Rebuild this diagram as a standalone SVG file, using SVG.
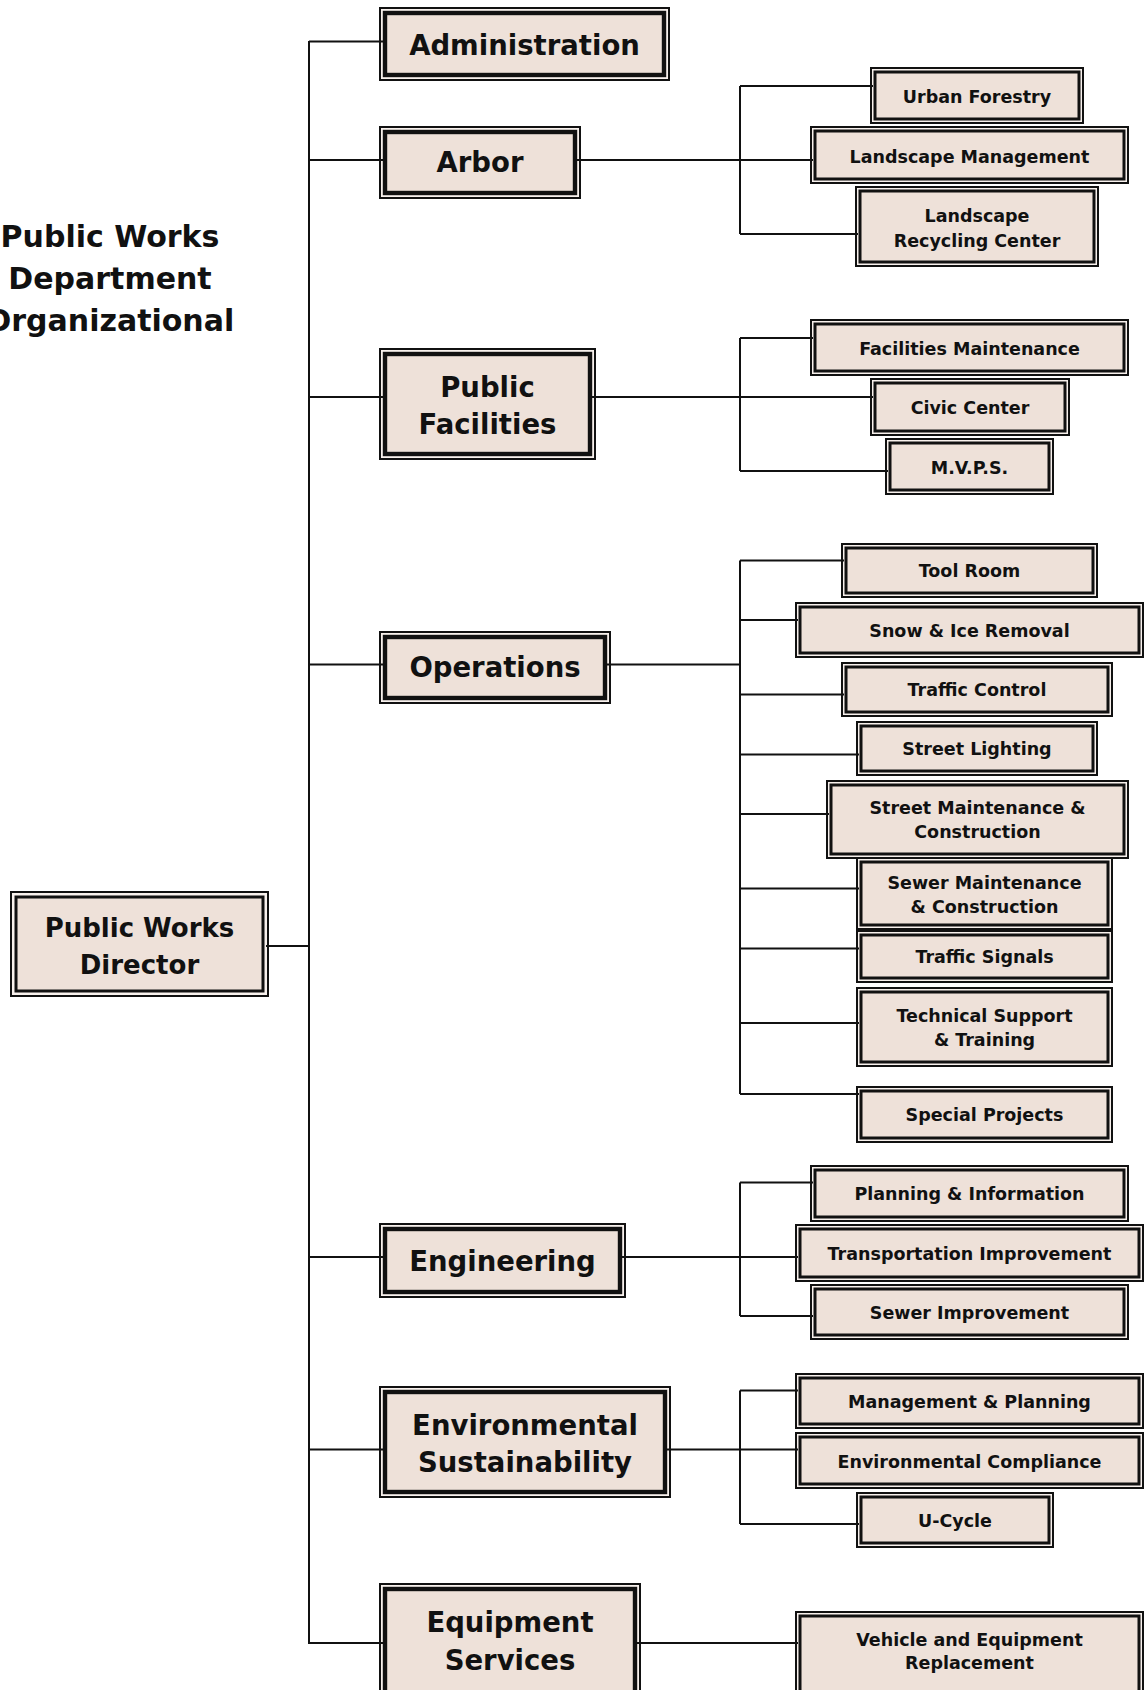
<svg xmlns="http://www.w3.org/2000/svg" width="1148" height="1690" viewBox="0 0 1148 1690">
<style>
.o{fill:#F8F1ED;stroke:#111;stroke-width:2}
.im{fill:#EEE1D9;stroke:#111;stroke-width:4.4}
.is{fill:#EEE1D9;stroke:#111;stroke-width:3}
.c{fill:none;stroke:#111;stroke-width:2}
text{font-family:"DejaVu Sans",Verdana,sans-serif;font-weight:bold;text-anchor:middle;fill:#111}
.m{font-size:27.5px}
.s{font-size:17.5px}
.ti{font-size:30px}
</style>
<rect width="1148" height="1690" fill="#fff"/>
<g id="title">
<text class="ti" x="110" y="247">Public Works</text>
<text class="ti" x="110" y="289">Department</text>
<text class="ti" x="110" y="331">Organizational</text>
</g>
<g id="director">
<rect class="o" x="11" y="892" width="257" height="104"/>
<rect class="is" x="16" y="897" width="247" height="94"/>
<text class="m" x="139.5" y="937" style="font-size:26px">Public Works</text>
<text class="m" x="139.5" y="974" style="font-size:26px">Director</text>
</g>
<g id="administration">
<rect class="o" x="380" y="8" width="289" height="72"/>
<rect class="im" x="385" y="13" width="279" height="62"/>
<text class="m" x="524.5" y="55">Administration</text>
</g>
<g id="arbor">
<rect class="o" x="380" y="127" width="200" height="71"/>
<rect class="im" x="385" y="132" width="190" height="61"/>
<text class="m" x="480" y="172">Arbor</text>
</g>
<g id="public-facilities">
<rect class="o" x="380" y="349" width="215" height="110"/>
<rect class="im" x="385" y="354" width="205" height="100"/>
<text class="m" x="487.5" y="397">Public</text>
<text class="m" x="487.5" y="434">Facilities</text>
</g>
<g id="operations">
<rect class="o" x="380" y="632" width="230" height="71"/>
<rect class="im" x="385" y="637" width="220" height="61"/>
<text class="m" x="495" y="677">Operations</text>
</g>
<g id="engineering">
<rect class="o" x="380" y="1224" width="245" height="73"/>
<rect class="im" x="385" y="1229" width="235" height="63"/>
<text class="m" x="502.5" y="1271">Engineering</text>
</g>
<g id="environmental-sustainability">
<rect class="o" x="380" y="1387" width="290" height="110"/>
<rect class="im" x="385" y="1392" width="280" height="100"/>
<text class="m" x="525" y="1435">Environmental</text>
<text class="m" x="525" y="1472">Sustainability</text>
</g>
<g id="equipment-services">
<rect class="o" x="380" y="1584" width="260" height="118"/>
<rect class="im" x="385" y="1589" width="250" height="108"/>
<text class="m" x="510" y="1632">Equipment</text>
<text class="m" x="510" y="1670">Services</text>
</g>
<g id="urban-forestry">
<rect class="o" x="871" y="68" width="212" height="55"/>
<rect class="is" x="875" y="72" width="204" height="47"/>
<text class="s" x="977" y="103">Urban Forestry</text>
</g>
<g id="landscape-management">
<rect class="o" x="811" y="127" width="317" height="56"/>
<rect class="is" x="815" y="131" width="309" height="48"/>
<text class="s" x="969.5" y="163">Landscape Management</text>
</g>
<g id="landscape-recycling-center">
<rect class="o" x="856" y="187" width="242" height="79"/>
<rect class="is" x="860" y="191" width="234" height="71"/>
<text class="s" x="977" y="222">Landscape</text>
<text class="s" x="977" y="247">Recycling Center</text>
</g>
<g id="facilities-maintenance">
<rect class="o" x="811" y="320" width="317" height="55"/>
<rect class="is" x="815" y="324" width="309" height="47"/>
<text class="s" x="969.5" y="355">Facilities Maintenance</text>
</g>
<g id="civic-center">
<rect class="o" x="871" y="379" width="198" height="56"/>
<rect class="is" x="875" y="383" width="190" height="48"/>
<text class="s" x="970" y="414">Civic Center</text>
</g>
<g id="mvps">
<rect class="o" x="886" y="439" width="167" height="55"/>
<rect class="is" x="890" y="443" width="159" height="47"/>
<text class="s" x="969.5" y="474">M.V.P.S.</text>
</g>
<g id="tool-room">
<rect class="o" x="842" y="544" width="255" height="53"/>
<rect class="is" x="846" y="548" width="247" height="45"/>
<text class="s" x="969.5" y="577">Tool Room</text>
</g>
<g id="snow-ice-removal">
<rect class="o" x="796" y="603" width="347" height="54"/>
<rect class="is" x="800" y="607" width="339" height="46"/>
<text class="s" x="969.5" y="637">Snow &amp; Ice Removal</text>
</g>
<g id="traffic-control">
<rect class="o" x="842" y="663" width="270" height="53"/>
<rect class="is" x="846" y="667" width="262" height="45"/>
<text class="s" x="977" y="696">Traffic Control</text>
</g>
<g id="street-lighting">
<rect class="o" x="857" y="722" width="240" height="53"/>
<rect class="is" x="861" y="726" width="232" height="45"/>
<text class="s" x="977" y="755">Street Lighting</text>
</g>
<g id="street-maintenance">
<rect class="o" x="827" y="781" width="301" height="77"/>
<rect class="is" x="831" y="785" width="293" height="69"/>
<text class="s" x="977.5" y="814">Street Maintenance &amp;</text>
<text class="s" x="977.5" y="838">Construction</text>
</g>
<g id="sewer-maintenance">
<rect class="o" x="857" y="858" width="255" height="71"/>
<rect class="is" x="861" y="862" width="247" height="63"/>
<text class="s" x="984.5" y="889">Sewer Maintenance</text>
<text class="s" x="984.5" y="913">&amp; Construction</text>
</g>
<g id="traffic-signals">
<rect class="o" x="857" y="931" width="255" height="51"/>
<rect class="is" x="861" y="935" width="247" height="43"/>
<text class="s" x="984.5" y="963">Traffic Signals</text>
</g>
<g id="technical-support">
<rect class="o" x="857" y="988" width="255" height="78"/>
<rect class="is" x="861" y="992" width="247" height="70"/>
<text class="s" x="984.5" y="1022">Technical Support</text>
<text class="s" x="984.5" y="1046">&amp; Training</text>
</g>
<g id="special-projects">
<rect class="o" x="857" y="1087" width="255" height="55"/>
<rect class="is" x="861" y="1091" width="247" height="47"/>
<text class="s" x="984.5" y="1121">Special Projects</text>
</g>
<g id="planning-information">
<rect class="o" x="811" y="1166" width="317" height="55"/>
<rect class="is" x="815" y="1170" width="309" height="47"/>
<text class="s" x="969.5" y="1200">Planning &amp; Information</text>
</g>
<g id="transportation-improvement">
<rect class="o" x="796" y="1225" width="347" height="56"/>
<rect class="is" x="800" y="1229" width="339" height="48"/>
<text class="s" x="969.5" y="1260">Transportation Improvement</text>
</g>
<g id="sewer-improvement">
<rect class="o" x="811" y="1285" width="317" height="54"/>
<rect class="is" x="815" y="1289" width="309" height="46"/>
<text class="s" x="969.5" y="1319">Sewer Improvement</text>
</g>
<g id="management-planning">
<rect class="o" x="796" y="1374" width="347" height="54"/>
<rect class="is" x="800" y="1378" width="339" height="46"/>
<text class="s" x="969.5" y="1408">Management &amp; Planning</text>
</g>
<g id="environmental-compliance">
<rect class="o" x="796" y="1433" width="347" height="55"/>
<rect class="is" x="800" y="1437" width="339" height="47"/>
<text class="s" x="969.5" y="1468">Environmental Compliance</text>
</g>
<g id="u-cycle">
<rect class="o" x="857" y="1493" width="196" height="54"/>
<rect class="is" x="861" y="1497" width="188" height="46"/>
<text class="s" x="955" y="1527">U-Cycle</text>
</g>
<g id="vehicle-equipment-replacement">
<rect class="o" x="796" y="1612" width="347" height="90"/>
<rect class="is" x="800" y="1616" width="339" height="82"/>
<text class="s" x="969.5" y="1646">Vehicle and Equipment</text>
<text class="s" x="969.5" y="1669">Replacement</text>
</g>
<g id="connectors">
<path class="c" d="M309,41 V1644 M266,946 H309 M309,41.5 H384 M309,160 H384 M309,397 H384 M309,664.5 H384 M309,1257 H384 M309,1449.5 H384 M309,1643 H384"/>
<path class="c" d="M577,160 H813 M740,86 V234 M740,86 H873 M740,234 H858"/>
<path class="c" d="M592,397 H873 M740,338 V471 M740,338 H813 M740,471 H888"/>
<path class="c" d="M607,664.5 H740 M740,560.5 V1094 M740,560.5 H844 M740,620 H798 M740,694.5 H844 M740,754.5 H859 M740,814 H829 M740,888.5 H859 M740,948.5 H859 M740,1023 H859 M740,1094 H859"/>
<path class="c" d="M622,1257 H798 M740,1182.5 V1316 M740,1182.5 H813 M740,1316 H813"/>
<path class="c" d="M667,1449.5 H798 M740,1390.5 V1524 M740,1390.5 H798 M740,1524 H859"/>
<path class="c" d="M637,1643 H798"/>
</g>
</svg>
